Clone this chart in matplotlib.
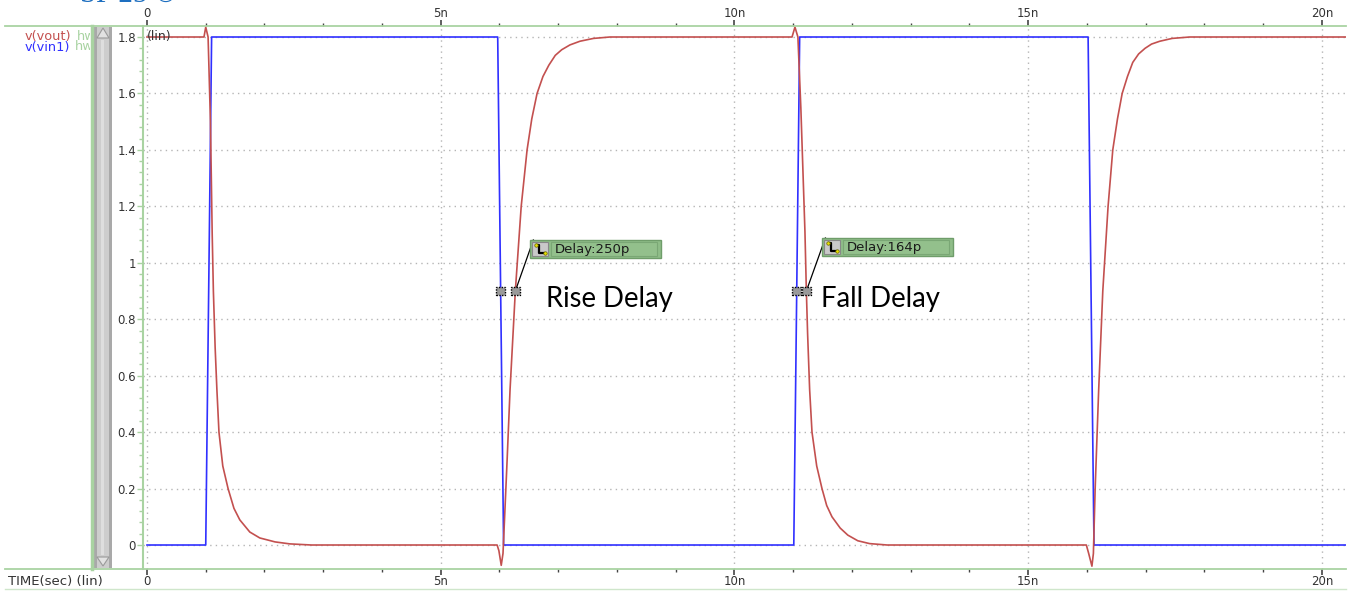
import numpy as np
import matplotlib
matplotlib.use("Agg")
import matplotlib.pyplot as plt
from matplotlib.patches import Rectangle, Polygon
from matplotlib.lines import Line2D

# ---- waveform data (time in ns, voltage in V) ----
vin_t = [0.0, 1.00, 1.10, 5.97, 6.07, 11.01, 11.11, 16.02, 16.12, 20.5]
vin_v = [0.0, 0.00, 1.80, 1.80, 0.00, 0.00, 1.80, 1.80, 0.00, 0.0]

vout_t = [0.0, 0.97, 1.00, 1.04, 1.08, 1.11, 1.13, 1.16, 1.19, 1.225, 1.29, 1.38, 1.48,
          1.58, 1.75, 1.92, 2.18, 2.43, 2.8,
          5.96, 5.99, 6.03, 6.06, 6.09, 6.13, 6.18, 6.27, 6.37, 6.47, 6.55, 6.64, 6.74,
          6.84, 6.95, 7.06, 7.20, 7.37, 7.60, 7.88,
          10.98, 11.03, 11.08, 11.13, 11.20, 11.224, 11.245, 11.28, 11.32, 11.40, 11.49,
          11.57, 11.66, 11.80, 11.93, 12.10, 12.30, 12.60,
          15.99, 16.03, 16.085, 16.11, 16.14, 16.20, 16.27, 16.36, 16.44, 16.52, 16.60,
          16.69, 16.78, 16.88, 16.99, 17.10, 17.24, 17.45, 17.75, 20.5]
vout_v = [1.80, 1.80, 1.835, 1.80, 1.50, 1.10, 0.90, 0.70, 0.55, 0.40, 0.28, 0.20, 0.13,
          0.089, 0.046, 0.025, 0.011, 0.004, 0.0,
          0.0, -0.02, -0.072, -0.03, 0.11, 0.30, 0.55, 0.90, 1.20, 1.40, 1.51, 1.60, 1.66,
          1.70, 1.735, 1.755, 1.772, 1.785, 1.795, 1.80,
          1.80, 1.835, 1.80, 1.55, 1.11, 0.90, 0.75, 0.55, 0.40, 0.28, 0.20,
          0.14, 0.10, 0.06, 0.035, 0.015, 0.005, 0.0,
          0.0, -0.03, -0.075, -0.03, 0.20, 0.55, 0.90, 1.20, 1.40, 1.51, 1.60,
          1.66, 1.71, 1.74, 1.76, 1.775, 1.785, 1.795, 1.80, 1.80]

# measured delays (ns)
rise_delay = 0.250
fall_delay = 0.164
rise_label = "Delay:250p"
fall_label = "Delay:164p"
meas_level = 0.9

x_major = [0, 5, 10, 15, 20]
x_labels = ["0", "5n", "10n", "15n", "20n"]
y_major = [0, 0.2, 0.4, 0.6, 0.8, 1.0, 1.2, 1.4, 1.6, 1.8]
y_labels = ["0", "0.2", "0.4", "0.6", "0.8", "1", "1.2", "1.4", "1.6", "1.8"]

# ---- colours ----
RED = "#c3504f"
BLUE = "#3030ff"
GREEN = "#a9d3a2"
TXT = "#333333"

W, H = 1355, 595
fig = plt.figure(figsize=(W / 100, H / 100), dpi=100)
fig.patch.set_facecolor("white")


def px_rect(x, y, w, h, **kw):
    return Rectangle((x / W, 1 - (y + h) / H), w / W, h / H,
                     transform=fig.transFigure, **kw)


def px_line(xs, ys, **kw):
    return Line2D([x / W for x in xs], [1 - y / H for y in ys],
                  transform=fig.transFigure, **kw)


ax = fig.add_axes([143 / W, 1 - 569 / H, 1203 / W, 543 / H])
ax.set_xlim(-0.068, 20.41)
ax.set_ylim(-0.085, 1.839)

ax.plot(vin_t, vin_v, color=BLUE, lw=1.2, zorder=3)
ax.plot(vout_t, vout_v, color=RED, lw=1.2, zorder=4)

# axes styling
for s in ["top", "bottom", "right"]:
    ax.spines[s].set_visible(False)
ax.spines["left"].set_color(GREEN)
ax.spines["left"].set_linewidth(1.5)

ax.set_xticks(x_major)
ax.set_xticklabels(x_labels)
ax.set_xticks(np.arange(0, 21, 1), minor=True)
ax.set_yticks(y_major)
ax.set_yticklabels(y_labels)
ax.set_yticks(np.arange(0, 1.81, 0.04), minor=True)
ax.tick_params(axis="x", which="both", top=True, labeltop=True, bottom=True,
               labelbottom=True, direction="out", color="#444444",
               labelsize=8.5, labelcolor=TXT)
ax.tick_params(axis="x", which="major", length=4, width=1.2, pad=0.5)
ax.tick_params(axis="x", which="minor", length=2.5, width=1.0)
ax.tick_params(axis="y", which="both", direction="out", color=GREEN,
               labelsize=8.5, labelcolor=TXT, pad=1)
ax.tick_params(axis="y", which="major", length=4, width=1.0)
ax.tick_params(axis="y", which="minor", length=3, width=1.0)
ax.grid(True, which="major", color="#b5b5b5", linestyle=(0, (1, 3)), lw=1.0)
ax.set_axisbelow(True)

ax.text(0.0, 1.826, "(lin)", fontsize=9, color=TXT, va="top", ha="left",
        transform=ax.transData, zorder=6)

# ---- frame lines across the window ----
for yy in (26, 569):
    fig.add_artist(px_line([5, 1346], [yy, yy], color=GREEN, lw=1.3))
fig.add_artist(px_line([5, 1346], [589, 589], color="#cfe6cb", lw=1.0))
fig.add_artist(px_line([92, 92], [26, 569], color=GREEN, lw=2.5))

# ---- scrollbar ----
fig.add_artist(px_rect(94, 27, 18, 541, facecolor="#a9a9a9", edgecolor="none"))
fig.add_artist(px_rect(97, 27, 12, 541, facecolor="#cdcdcd", edgecolor="none"))
fig.add_artist(px_rect(101, 40, 3, 515, facecolor="#dedede", edgecolor="none"))
fig.add_artist(Polygon([(97 / W, 1 - 38 / H), (109 / W, 1 - 38 / H), (103 / W, 1 - 28 / H)],
                       closed=True, transform=fig.transFigure,
                       facecolor="#e2e2e2", edgecolor="#9a9a9a", lw=0.8))
fig.add_artist(Polygon([(97 / W, 1 - 557 / H), (109 / W, 1 - 557 / H), (103 / W, 1 - 566 / H)],
                       closed=True, transform=fig.transFigure,
                       facecolor="#e2e2e2", edgecolor="#9a9a9a", lw=0.8))

# ---- signal names (the "hw" suffix is clipped by the scrollbar pane) ----
name_clip = px_rect(0, 28, 90, 28, facecolor="none", edgecolor="none")
fig.add_artist(name_clip)
for txt, col, yy, xx in [("v(vout)", RED, 36.5, 25), ("v(vin1)", BLUE, 47, 25),
                         ("hw", GREEN, 36.5, 77), ("hw", GREEN, 47, 75)]:
    t = fig.text(xx / W, 1 - yy / H, txt, color=col, fontsize=9.3, va="center")
    t.set_clip_path(name_clip)

fig.text(8 / W, 1 - 582 / H, "TIME(sec) (lin)", color=TXT, fontsize=9.5, va="center")

# cropped caption at the very top
fig.text(80 / W, 1 - 3 / H, "SP 25 \u00a9", color="#1e6fc0", fontsize=21,
         family="Liberation Serif", va="baseline")

# ---- delay measurements ----
fig.canvas.draw()
bb = ax.get_window_extent()
sx = bb.width / (ax.get_xlim()[1] - ax.get_xlim()[0])   # px per ns
sy = bb.height / (ax.get_ylim()[1] - ax.get_ylim()[0])  # px per V


def crossing(ts, vs, t_near, level):
    ts = np.asarray(ts)
    vs = np.asarray(vs)
    for i in range(len(ts) - 1):
        if abs(ts[i] - t_near) < 0.3 and (vs[i] - level) * (vs[i + 1] - level) <= 0 and vs[i] != vs[i + 1]:
            return ts[i] + (level - vs[i]) * (ts[i + 1] - ts[i]) / (vs[i + 1] - vs[i])
    return t_near


def marker(t, v):
    w, h = 9 / sx, 8 / sy
    ax.add_patch(Rectangle((t - w / 2, v - h / 2), w, h, facecolor="#9a9a9a",
                           edgecolor="black", lw=1.0, linestyle=(0, (1, 1)), zorder=7))


def delay_tag(t_in, delay, label, dx_px, dy_px):
    t_out = t_in + delay
    marker(t_in, meas_level)
    marker(t_out, meas_level)
    x0 = t_out + dx_px / sx
    ytop = meas_level + dy_px / sy
    bw, bh = 131 / sx, 18 / sy
    ax.plot([t_out, x0 + 3 / sx], [meas_level, ytop], color="black", lw=0.9, zorder=6)
    ax.add_patch(Rectangle((x0, ytop - bh), bw, bh, facecolor="#8fbd88",
                           edgecolor="#6f9d6a", lw=1.0, zorder=6))
    ax.add_patch(Rectangle((x0 + 2 / sx, ytop - bh + 2 / sy), 16 / sx, 14 / sy,
                           facecolor="#c9c9c9", edgecolor="#888888", lw=0.8, zorder=7))
    gx = [x0 + 6 / sx, x0 + 9 / sx, x0 + 9 / sx, x0 + 15 / sx]
    gy = [ytop - 5 / sy, ytop - 5 / sy, ytop - 13 / sy, ytop - 13 / sy]
    ax.plot(gx, gy, color="black", lw=1.6, zorder=8, solid_capstyle="butt")
    ax.plot([gx[0], gx[-1]], [gy[0], gy[-1]], ls="none", marker="o", ms=2.5,
            mfc="#e8e000", mec="#666600", mew=0.5, zorder=9)
    ax.add_patch(Rectangle((x0 + 21 / sx, ytop - bh + 2 / sy), 106 / sx, 14 / sy,
                           facecolor="#93c08c", edgecolor="#7aa775", lw=0.8, zorder=7))
    ax.text(x0 + 24 / sx, ytop - bh / 2, label, fontsize=9.5, color="#1a1a1a",
            va="center", ha="left", zorder=8)
    return t_out


t_in_rise = crossing(vin_t, vin_v, 6.02, meas_level)
t_in_fall = crossing(vin_t, vin_v, 11.06, meas_level)
t_out_rise = delay_tag(t_in_rise, rise_delay, rise_label, 15, 51)
t_out_fall = delay_tag(t_in_fall, fall_delay, fall_label, 16, 53)

ax.text(t_out_rise + 31 / sx, meas_level - 8 / sy, "Rise Delay", fontsize=19.8,
        family="Lato", color="black", va="center", ha="left", zorder=8)
ax.text(t_out_fall + 15 / sx, meas_level - 8 / sy, "Fall Delay", fontsize=19.8,
        family="Lato", color="black", va="center", ha="left", zorder=8)

fig.savefig("out.png", dpi=100, facecolor="white")
